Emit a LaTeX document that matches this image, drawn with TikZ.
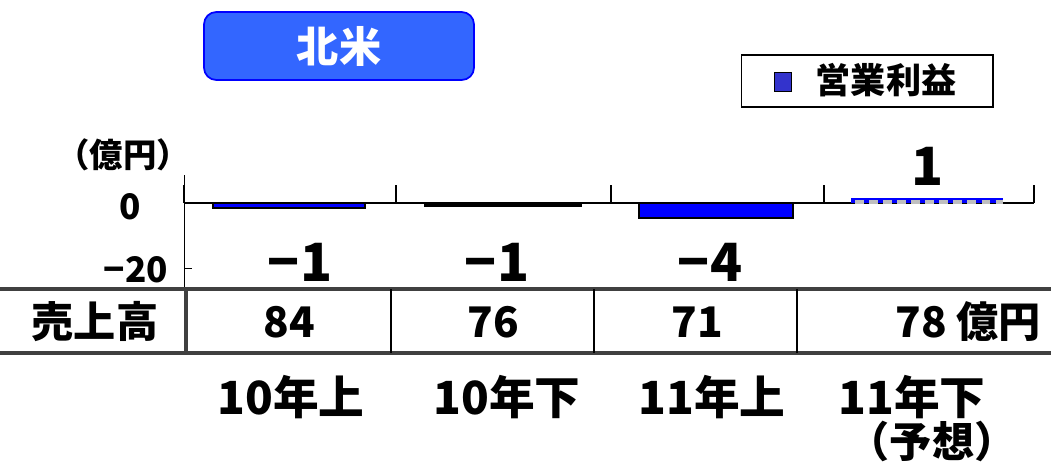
\documentclass[tikz,border=0pt]{standalone}
\usepackage{fontspec}
\setmainfont{Noto Sans CJK JP}
\usetikzlibrary{positioning}
\definecolor{titleblue}{HTML}{3366FF}
\definecolor{barblue}{HTML}{0000FF}
\definecolor{legendblue}{HTML}{3333CC}
\definecolor{rulegray}{HTML}{404040}

\begin{document}
\begin{tikzpicture}[x=0.02cm,y=-0.02cm]
                    \tikzstyle{every node}=[font=\bfseries, inner sep=0pt] \tikzstyle{bar} =
                    [draw=black, line width=1.2pt, fill=barblue] \tikzstyle{value} =
                    [font=\bfseries\fontsize{30}{30}\selectfont] \tikzstyle{cell} =
                    [font=\bfseries\fontsize{24}{24}\selectfont] \tikzstyle{period} =
                    [font=\bfseries\fontsize{26}{26}\selectfont] \tikzstyle{rule} =
                    [line width=2.5pt, draw=rulegray]

                    \useasboundingbox (0,0) rectangle (1051,464);

                    \node[draw=blue, line width=1pt, fill=titleblue, rounded corners=7pt,
                    minimum width=5.4cm, minimum height=1.36cm, text=white,
                    font=\bfseries\fontsize{24}{24}\selectfont](title) at (339,46) {北米};

                    \node[draw=black, line width=0.6pt, minimum width=5.04cm,
                    minimum height=1.04cm](legend) at (867,81) {};
                    \node[draw=black, line width=0.5pt, fill=legendblue, minimum width=0.34cm,
                    minimum height=0.38cm](key) at (783,82) {};
                    \node[font=\bfseries\fontsize{20}{20}\selectfont](keytext) at (886,80) {営業利益};

                    % axis
                    \node[font=\bfseries\fontsize{19}{19}\selectfont](unit) at (123,155) {（億円）};
                    \node[font=\bfseries\fontsize{20}{20}\selectfont](y0) at (130,207) {0};
                    \node[font=\bfseries\fontsize{20}{20}\selectfont](y20) at (136,270) {−20};
                    \draw[line width=0.5pt] (184,175) -- (184,288);
                    \draw[line width=0.5pt] (184,268) -- (192,268);
                    \draw[line width=1.3pt] (184,203) -- (1034,203);
                    \foreach \x in {184,396,611,824,1034}
                        \draw[line width=1pt] (\x,203) -- (\x,185);

                    \draw[bar] (213,203) rectangle (365,208);
                    \draw[bar, fill=black] (425,203) rectangle (581,206);
                    \draw[bar] (639,203) rectangle (793,218);
                    \fill[barblue] (851,198) rectangle (1003,203);
                    \draw[gray!50, line width=2.5pt, dash pattern=on 5pt off 3pt] (855,202) -- (1003,202);

                    \node[value](v1) at (300,262) {−1};
                    \node[value](v2) at (497,262) {−1};
                    \node[value](v3) at (710,262) {−4};
                    \node[value](v4) at (928,166) {1};

                    % sales row
                    \draw[rule] (0,289) -- (1051,289);
                    \draw[rule] (0,353) -- (1051,353);
                    \draw[rule] (186,289) -- (186,353);
                    \draw[line width=1pt] (391,289) -- (391,353);
                    \draw[line width=1pt] (594,289) -- (594,353);
                    \draw[line width=1pt] (797,289) -- (797,353);

                    \node[cell](sales) at (95,322) {売上高};
                    \node[cell](s1) at (289,322) {84};
                    \node[cell](s2) at (493,322) {76};
                    \node[cell](s3) at (697,322) {71};
                    \node[cell](s4) at (968,322) {78 億円};

                    \node[period](p1) at (291,397) {10年上};
                    \node[period](p2) at (507,397) {10年下};
                    \node[period](p3) at (712,397) {11年上};
                    \node[period](p4) at (912,397) {11年下};
                    \node[cell](p5) at (932,441) {（予想）};
            \end{tikzpicture}
\end{document}
